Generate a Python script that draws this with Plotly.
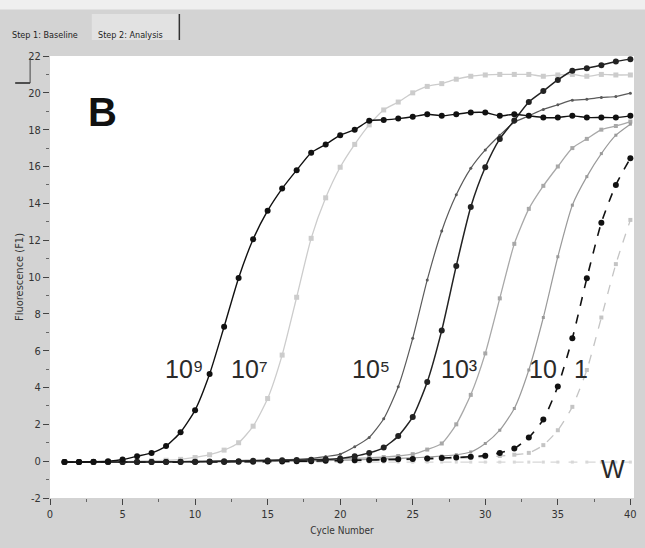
import plotly.graph_objects as go

cycles = list(range(1, 41))

s_1e9 = [-0.05, -0.05, -0.03, 0.0, 0.09, 0.27, 0.45, 0.82, 1.57, 2.77,
         4.73, 7.3, 9.95, 12.05, 13.6, 14.8, 15.8, 16.75, 17.2, 17.7,
         18.0, 18.48, 18.53, 18.6, 18.7, 18.84, 18.75, 18.84, 18.93, 18.93,
         18.75, 18.84, 18.75, 18.66, 18.66, 18.75, 18.66, 18.66, 18.66, 18.75]
s_1e7 = [-0.05, -0.05, -0.05, -0.03, -0.02, 0.0, 0.02, 0.05, 0.1, 0.2,
         0.35, 0.6, 1.0, 1.9, 3.4, 5.76, 8.9, 12.1, 14.3, 15.96,
         17.2, 18.26, 19.07, 19.5, 20.0, 20.35, 20.5, 20.74, 20.9, 20.97,
         21.0, 21.0, 21.0, 20.9, 20.97, 21.0, 20.9, 21.0, 20.97, 20.97]
s_1e5 = [-0.05, -0.05, -0.05, -0.05, -0.05, -0.04, -0.03, -0.03, -0.02, 0.0,
         0.0, 0.02, 0.03, 0.05, 0.06, 0.08, 0.1, 0.15, 0.25, 0.38,
         0.78, 1.29, 2.3, 4.04, 6.67, 9.84, 12.5, 14.46, 15.9, 16.9,
         17.7, 18.4, 18.75, 19.1, 19.35, 19.6, 19.65, 19.75, 19.8, 19.98]
s_1e3 = [-0.05, -0.05, -0.05, -0.05, -0.05, -0.05, -0.04, -0.04, -0.03, -0.03,
         -0.02, 0.0, 0.0, 0.02, 0.03, 0.05, 0.06, 0.08, 0.1, 0.15,
         0.27, 0.45, 0.74, 1.36, 2.4, 4.3, 7.1, 10.6, 13.8, 15.96,
         17.5, 18.5, 19.5, 20.1, 20.7, 21.2, 21.34, 21.5, 21.7, 21.83]
s_1e2 = [-0.05, -0.05, -0.05, -0.05, -0.05, -0.05, -0.05, -0.04, -0.04, -0.03,
         -0.03, -0.02, -0.02, 0.0, 0.0, 0.02, 0.03, 0.05, 0.08, 0.12,
         0.15, 0.18, 0.22, 0.28, 0.38, 0.63, 0.96, 2.0, 3.6, 5.85,
         8.84, 11.8, 13.7, 14.95, 16.0, 17.0, 17.5, 18.0, 18.2, 18.44]
s_10 = [-0.05, -0.05, -0.05, -0.05, -0.05, -0.05, -0.05, -0.05, -0.04, -0.04,
        -0.04, -0.03, -0.03, -0.02, -0.02, 0.0, 0.0, 0.02, 0.03, 0.05,
        0.07, 0.1, 0.12, 0.15, 0.18, 0.22, 0.28, 0.35, 0.5, 0.96,
        1.68, 2.86, 4.95, 7.8, 11.1, 13.9, 15.45, 16.7, 17.7, 18.3]
s_1 = [-0.05, -0.05, -0.05, -0.05, -0.05, -0.05, -0.05, -0.05, -0.05, -0.04,
       -0.04, -0.04, -0.03, -0.03, -0.02, -0.02, 0.0, 0.0, 0.02, 0.03,
       0.05, 0.06, 0.08, 0.1, 0.12, 0.14, 0.17, 0.2, 0.24, 0.3,
       0.45, 0.69, 1.29, 2.26, 4.06, 6.67, 9.93, 12.95, 15.0, 16.45]
s_neg = [-0.05, -0.05, -0.05, -0.05, -0.05, -0.05, -0.05, -0.05, -0.05, -0.05,
         -0.05, -0.04, -0.04, -0.04, -0.03, -0.03, -0.02, -0.02, 0.0, 0.0,
         0.02, 0.03, 0.05, 0.06, 0.08, 0.1, 0.12, 0.15, 0.18, 0.22,
         0.28, 0.35, 0.45, 0.87, 1.68, 2.95, 4.95, 7.8, 10.7, 13.1]
s_w = [-0.05, -0.05, -0.05, -0.05, -0.05, -0.05, -0.05, -0.05, -0.05, -0.05,
       -0.05, -0.05, -0.05, -0.05, -0.05, -0.05, -0.05, -0.05, -0.05, -0.05,
       -0.05, -0.05, -0.05, -0.05, -0.05, -0.05, -0.05, -0.05, -0.05, -0.05,
       -0.05, -0.05, -0.05, -0.05, -0.05, -0.05, -0.05, -0.05, -0.05, -0.05]

labels = ["10⁹", "10⁷", "10⁵", "10³", "10", "1", "W"]
label_x = [9.3, 13.75, 22.15, 28.2, 34.0, 36.6, 38.8]
label_y = [5.0, 5.0, 5.0, 5.0, 5.0, 5.0, -0.45]

x_ticks = [0, 5, 10, 15, 20, 25, 30, 35, 40]
y_ticks = [-2, 0, 2, 4, 6, 8, 10, 12, 14, 16, 18, 20, 22]

series = [
    (s_w, "#d8d8d8", "dash", "square", 3, 1.2),
    (s_neg, "#c4c4c4", "dash", "square", 4, 1.3),
    (s_1e2, "#a8a8a8", "solid", "square", 4, 1.3),
    (s_10, "#9a9a9a", "solid", "square", 3, 1.2),
    (s_1e7, "#cccccc", "solid", "square", 5, 1.3),
    (s_1e5, "#5a5a5a", "solid", "circle", 3, 1.2),
    (s_1, "#111111", "dash", "circle", 6, 1.6),
    (s_1e3, "#222222", "solid", "circle", 6, 1.5),
    (s_1e9, "#111111", "solid", "circle", 6, 1.4),
]

fig = go.Figure()
for ys, col, dash, sym, ms, lw in series:
    fig.add_trace(go.Scatter(
        x=cycles, y=ys, mode="lines+markers",
        line=dict(color=col, width=lw, dash=dash, shape="spline", smoothing=0.6),
        marker=dict(color=col, size=ms, symbol=sym),
        showlegend=False, hoverinfo="skip"))

for t, lx, ly in zip(labels, label_x, label_y):
    fig.add_annotation(x=lx, y=ly, text=t, showarrow=False,
                       font=dict(family="Liberation Sans, Arial", size=25, color="#2a2a2a"),
                       xanchor="center", yanchor="middle")

fig.add_annotation(x=3.6, y=18.95, text="<b>B</b>", showarrow=False,
                   font=dict(family="Liberation Sans, Arial", size=40, color="#111111"))

# window chrome
shapes = [
    dict(type="rect", xref="paper", yref="paper", x0=-0.09, x1=1.02, y0=1.105, y1=1.14,
         fillcolor="#efefef", line=dict(width=0), layer="below"),
    dict(type="rect", xref="paper", yref="paper", x0=(92 - 50) / 587, x1=(180 - 50) / 587,
         y0=(498 - 40) / 442, y1=(498 - 14) / 442,
         fillcolor="#e2e2e2", line=dict(width=0), layer="below"),
    dict(type="line", xref="paper", yref="paper", x0=(180 - 50) / 587, x1=(180 - 50) / 587,
         y0=(498 - 40) / 442, y1=(498 - 14) / 442, line=dict(color="#333333", width=1.5)),
    dict(type="line", xref="paper", yref="paper", x0=(15 - 50) / 587, x1=(30 - 50) / 587,
         y0=(498 - 83) / 442, y1=(498 - 83) / 442, line=dict(color="#222222", width=1.5)),
    dict(type="line", xref="paper", yref="paper", x0=(30 - 50) / 587, x1=(30 - 50) / 587,
         y0=(498 - 83) / 442, y1=(498 - 58) / 442, line=dict(color="#444444", width=1)),
]
fig.update_layout(shapes=shapes)

fig.add_annotation(xref="paper", yref="paper", x=(10 - 50) / 587, y=(498 - 28) / 442,
                   text="Step 1: Baseline", showarrow=False, xanchor="left",
                   font=dict(family="Liberation Sans Narrow, DejaVu Sans Condensed", size=9, color="#222222"))
fig.add_annotation(xref="paper", yref="paper", x=(96 - 50) / 587, y=(498 - 28) / 442,
                   text="Step 2: Analysis", showarrow=False, xanchor="left",
                   font=dict(family="Liberation Sans Narrow, DejaVu Sans Condensed", size=9, color="#222222"))

tick_font = dict(family="Liberation Sans Narrow, DejaVu Sans Condensed, Arial", size=11, color="#333333")

fig.update_xaxes(range=[0, 40.25], tickvals=x_ticks, ticktext=[str(v) for v in x_ticks],
                 ticks="outside", ticklen=6, tickcolor="#444444", tickwidth=1,
                 minor=dict(dtick=2.5, ticklen=3, tickcolor="#666666", ticks="outside", showgrid=False),
                 showgrid=False, zeroline=False, showline=False,
                 tickfont=tick_font,
                 title=dict(text="Cycle Number", font=dict(family="Liberation Sans Narrow, DejaVu Sans Condensed", size=10, color="#333333"), standoff=6))
fig.update_yaxes(range=[-2, 22], tickvals=y_ticks, ticktext=[str(v) for v in y_ticks],
                 ticks="outside", ticklen=6, tickcolor="#444444", tickwidth=1,
                 minor=dict(dtick=1, ticklen=3, tickcolor="#666666", ticks="outside", showgrid=False),
                 showgrid=False, zeroline=False, showline=False,
                 tickfont=tick_font,
                 title=dict(text="Fluorescence (F1)", font=dict(family="Liberation Sans Narrow, DejaVu Sans Condensed", size=11, color="#333333"), standoff=2))

fig.update_layout(width=645, height=548,
                  margin=dict(l=50, r=8, t=56, b=50),
                  paper_bgcolor="#d3d3d3", plot_bgcolor="#ffffff")

fig.write_html("out.html")
